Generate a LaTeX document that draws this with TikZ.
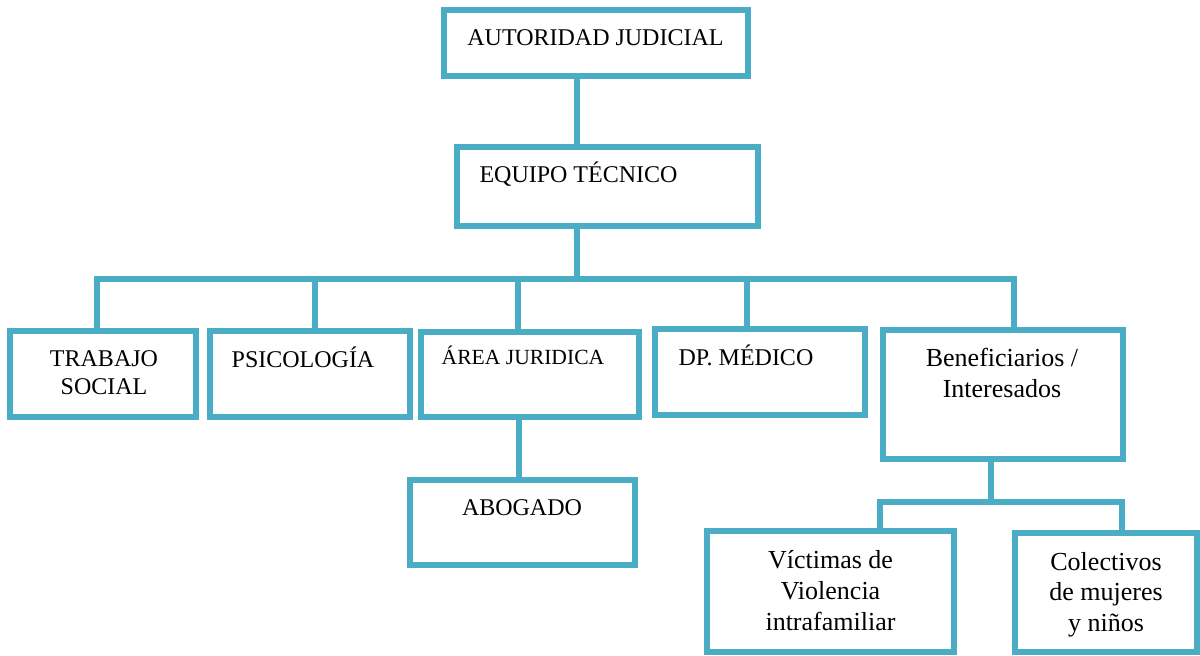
\documentclass[tikz,border=0pt]{standalone}
\usepackage{fontspec}
\setmainfont{Liberation Serif}
\usepackage{tikz}
\definecolor{aguamarina}{HTML}{4BACC6}

\begin{document}
\begin{tikzpicture}[
    x=0.5pt, y=-0.5pt,
    caja/.style={
    draw=aguamarina,
    fill=white,
    line width=3pt,
    inner sep=0pt
    },
    linea/.style={draw=aguamarina,line width=3pt},
    texto/.style={font=\fontsize{12}{14}\selectfont,inner sep=0pt,align=center,anchor=base},
    textochico/.style={texto,font=\fontsize{10.8}{13}\selectfont},
    textogrande/.style={texto,font=\fontsize{13}{15.3}\selectfont}
    ]
    \useasboundingbox (0,0) rectangle (1200,655);

    % cajas
    \node[caja,minimum width=152pt,minimum height=33pt] (juez) at (596,43) {};
    \node[caja,minimum width=150.5pt,minimum height=39.5pt] (equipo) at (607.5,186.5) {};
    \node[caja,minimum width=93pt,minimum height=43pt] (trabajo) at (103,374) {};
    \node[caja,minimum width=100pt,minimum height=43pt] (psico) at (310,374) {};
    \node[caja,minimum width=109pt,minimum height=42.5pt] (area) at (530,374.5) {};
    \node[caja,minimum width=105pt,minimum height=43pt] (medico) at (760,372) {};
    \node[caja,minimum width=120pt,minimum height=64.5pt] (benef) at (1003,394.5) {};
    \node[caja,minimum width=112.5pt,minimum height=42.5pt] (abogado) at (522.5,522.5) {};
    \node[caja,minimum width=123.5pt,minimum height=60.5pt] (victimas) at (830.5,591.5) {};
    \node[caja,minimum width=91pt,minimum height=59.5pt] (colectivos) at (1106,592.5) {};

    % textos (base = ultima linea)
    \node[texto] (t-juez) at (595.5,45) {AUTORIDAD JUDICIAL};
    \node[texto] (t-equipo) at (578.5,182) {EQUIPO TÉCNICO};
    \node[texto] (t-trabajo) at (104,394) {TRABAJO\\SOCIAL};
    \node[texto] (t-psico) at (303,367) {PSICOLOGÍA};
    \node[textochico] (t-area) at (523,364) {ÁREA JURIDICA};
    \node[texto] (t-medico) at (746,365) {DP. MÉDICO};
    \node[textogrande] (t-benef) at (1002,397) {Beneficiarios /\\Interesados};
    \node[texto] (t-abogado) at (522,515) {ABOGADO};
    \node[textogrande] (t-victimas) at (830.5,630) {Víctimas de\\Violencia\\intrafamiliar};
    \node[textogrande] (t-colectivos) at (1106,631.5) {Colectivos\\de mujeres\\y niños};

    % conectores
    \coordinate (eje) at (577,279);
    \coordinate (rama) at (991,502);

    \draw[linea] (juez.south -| eje) -- (equipo.north -| eje);
    \draw[linea] (equipo.south -| eje) -- (eje);
    \foreach \nodo/\dx in {trabajo/-3pt,psico/2.5pt,area/-6pt,medico/-6.5pt,benef/5.5pt}
      \draw[linea] (eje) -| ([xshift=\dx]\nodo.north);

    \draw[linea] ([xshift=-5.75pt]area.south) -- ([xshift=-5.75pt]area.south |- abogado.north);

    \draw[linea] (benef.south -| rama) -- (rama);
    \foreach \nodo/\dx in {victimas/24.75pt,colectivos/8pt}
      \draw[linea] (rama) -| ([xshift=\dx]\nodo.north);

    \end{tikzpicture}
\end{document}
